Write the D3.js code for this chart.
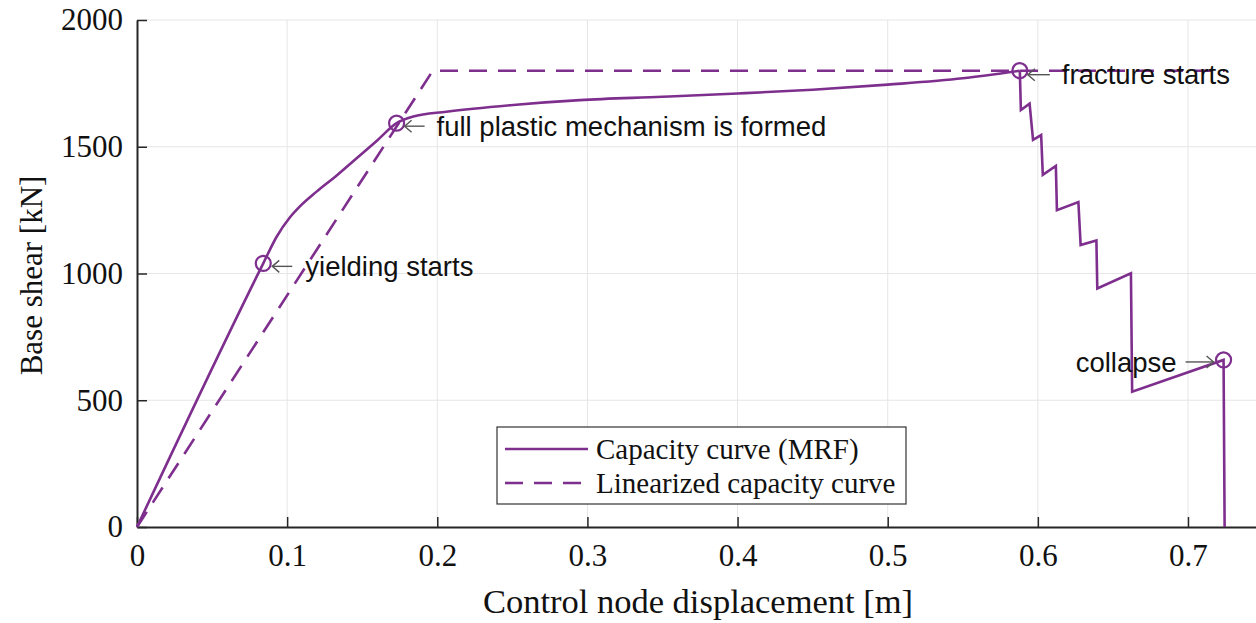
<!DOCTYPE html>
<html><head><meta charset="utf-8">
<script src="https://cdn.jsdelivr.net/npm/d3@7"></script>
<style>body{margin:0;background:#fff}svg{display:block}</style>
</head><body>
<svg id="c" width="1256" height="623"></svg>
<script>
// ---- data ----
const capX = [0, 0.0841, 0.0930, 0.1019, 0.1085, 0.1196, 0.1330, 0.1463, 0.1596, 0.1729, 0.184, 0.206, 0.2506, 0.295, 0.35, 0.40, 0.45, 0.50, 0.55, 0.588,
  0.5887, 0.5945, 0.5968, 0.6022, 0.6033, 0.612, 0.6127, 0.627, 0.6285, 0.639, 0.6396, 0.662, 0.6628, 0.7237, 0.7244];
const capY = [0, 1040, 1145, 1222, 1265, 1323, 1387, 1455, 1523, 1593, 1619, 1638, 1665, 1684, 1697, 1710, 1725, 1745, 1770, 1800,
  1645, 1670, 1527, 1546, 1389, 1424, 1250, 1282, 1112, 1130, 941, 1001, 534, 659, 0];
const linX = [0, 0.197, 0.7244];
const linY = [0, 1800, 1800];
const markX = [0.0841, 0.1729, 0.588, 0.7237];
const markY = [1040, 1593, 1800, 659];
const markLabels = ["yielding starts", "full plastic mechanism is formed", "fracture starts", "collapse"];
const xTicks = [0, 0.1, 0.2, 0.3, 0.4, 0.5, 0.6, 0.7];
const yTicks = [0, 500, 1000, 1500, 2000];
const seriesNames = ["Capacity curve (MRF)", "Linearized capacity curve"];
const xLabel = "Control node displacement [m]";
const yLabel = "Base shear [kN]";

// ---- layout ----
const purple = "#7E2F8E";
const svg = d3.select("#c");
const x = d3.scaleLinear().domain([0, 0.7453]).range([137, 1256]);
const y = d3.scaleLinear().domain([0, 2000]).range([527, 20]);

// grid
svg.append("g").selectAll("line").data(xTicks.slice(1)).join("line")
  .attr("x1", d => x(d)).attr("x2", d => x(d)).attr("y1", y(0)).attr("y2", y(2000))
  .attr("stroke", "#e6e6e6").attr("stroke-width", 1);
svg.append("g").selectAll("line").data(yTicks.slice(1)).join("line")
  .attr("x1", x(0)).attr("x2", 1256).attr("y1", d => y(d)).attr("y2", d => y(d))
  .attr("stroke", "#e6e6e6").attr("stroke-width", 1);

// axes
const serif = "'Liberation Serif','Times New Roman',serif";
const sans = "'Liberation Sans',Arial,sans-serif";
const xa = svg.append("g").attr("transform", `translate(0,${y(0)})`)
  .call(d3.axisBottom(x).tickValues(xTicks).tickSizeInner(-10).tickSizeOuter(0).tickPadding(18).tickFormat(d3.format("")));
const ya = svg.append("g").attr("transform", `translate(${x(0)},0)`)
  .call(d3.axisLeft(y).tickValues(yTicks).tickSizeInner(-10).tickSizeOuter(0).tickPadding(14).tickFormat(d3.format("d")));
[xa, ya].forEach(a => {
  a.select(".domain").attr("stroke", "#262626").attr("stroke-width", 2);
  a.selectAll(".tick line").attr("stroke", "#262626").attr("stroke-width", 1.5);
  a.selectAll(".tick text").attr("font-family", serif).attr("font-size", 31).attr("fill", "#111");
});
xa.selectAll(".tick text").attr("dy", "0.68em");

// lines
const line = d3.line().x(d => x(d[0])).y(d => y(d[1]));
const smooth = d3.line().curve(d3.curveMonotoneX).x(d => x(d[0])).y(d => y(d[1]));
svg.append("path").datum(linX.map((v, i) => [v, linY[i]])).attr("d", line)
  .attr("fill", "none").attr("stroke", purple).attr("stroke-width", 2.6).attr("stroke-dasharray", "18,11");
const capPts = capX.map((v, i) => [v, capY[i]]);
const split = capPts.findIndex(d => d[1] === d3.max(capY));
const capStyle = p => p.attr("fill", "none").attr("stroke", purple).attr("stroke-width", 2.6).attr("stroke-linejoin", "miter");
svg.append("path").datum(capPts.slice(0, split + 1)).attr("d", smooth).call(capStyle);
svg.append("path").datum(capPts.slice(split)).attr("d", line).call(capStyle);

// markers
svg.append("g").selectAll("circle").data(markX.map((v, i) => [v, markY[i]])).join("circle")
  .attr("cx", d => x(d[0])).attr("cy", d => y(d[1])).attr("r", 7.5)
  .attr("fill", "none").attr("stroke", purple).attr("stroke-width", 2.2);

// annotations: [dir, tipOffset, tailOffset, textOffset, dy]
const annLayout = [[1, 9, 29, 42, 3], [1, 8, 28, 40, 3], [1, 8, 30, 42, 4], [-1, 10, 38, 47, 2]];
const ann = svg.append("g");
markX.forEach((mx, i) => {
  const px = x(mx), py = y(markY[i]);
  const [dir, tip, tail, tx, dy] = annLayout[i];
  const ay = py + dy;
  const x1 = px + dir * tip, x2 = px + dir * tail;
  ann.append("line").attr("x1", x1).attr("x2", x2).attr("y1", ay).attr("y2", ay)
    .attr("stroke", "#555").attr("stroke-width", 1.4);
  ann.append("path").attr("d", `M${x1 + dir * 7},${ay - 6}L${x1},${ay}L${x1 + dir * 7},${ay + 6}`)
    .attr("fill", "none").attr("stroke", "#555").attr("stroke-width", 1.4);
  ann.append("text").attr("x", px + dir * tx).attr("y", ay).attr("dy", "0.35em")
    .attr("text-anchor", dir > 0 ? "start" : "end")
    .attr("font-family", sans).attr("font-size", 27.5).attr("fill", "#111").text(markLabels[i]);
});

// axis labels
svg.append("text").attr("x", 698).attr("y", 613).attr("text-anchor", "middle")
  .attr("font-family", serif).attr("font-size", 34.5).attr("fill", "#111").text(xLabel);
svg.append("text").attr("transform", `translate(42,${(20 + 527) / 2 + 2}) rotate(-90)`).attr("text-anchor", "middle")
  .attr("font-family", serif).attr("font-size", 31).attr("fill", "#111").text(yLabel);

// legend
const lg = svg.append("g");
lg.append("rect").attr("x", 497).attr("y", 427).attr("width", 409).attr("height", 77)
  .attr("fill", "#fff").attr("stroke", "#333").attr("stroke-width", 1.2);
seriesNames.forEach((n, i) => {
  const ly = 449 + i * 34;
  lg.append("line").attr("x1", 505).attr("x2", 588).attr("y1", ly).attr("y2", ly)
    .attr("stroke", purple).attr("stroke-width", 2.6).attr("stroke-dasharray", i ? "18,11" : null);
  lg.append("text").attr("x", 596).attr("y", ly).attr("dy", "0.33em")
    .attr("font-family", serif).attr("font-size", 29).attr("fill", "#111").text(n);
});
</script>
</body></html>
